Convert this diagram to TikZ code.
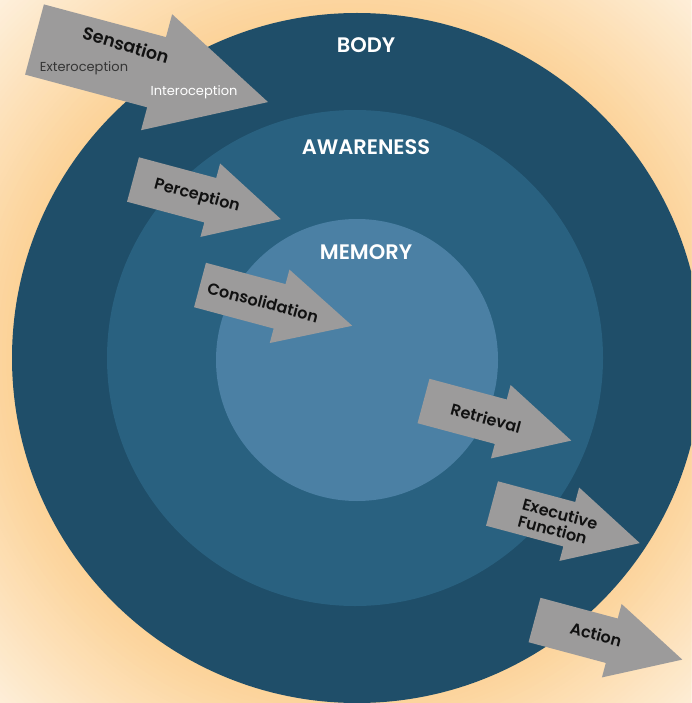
\documentclass[tikz,border=0pt]{standalone}
\usepackage{fontspec}
\setmainfont{Poppins}
\newfontfamily\semib{Poppins SemiBold}
\definecolor{peach}{HTML}{FCD297}
\definecolor{cream}{HTML}{FEF3E3}
\definecolor{bodyc}{HTML}{1F4E69}
\definecolor{awarec}{HTML}{296180}
\definecolor{memc}{HTML}{4B80A4}
\definecolor{arrowgray}{HTML}{9C9B9B}
\definecolor{lbltext}{HTML}{111111}
\tikzset{
  blockarrow/.pic={\fill[arrowgray] (0,-23) -- (80,-23) -- (80,-38) -- (153,0) -- (80,38) -- (80,23) -- (0,23) -- cycle;},
  ring/.style={circle, inner sep=0pt, outer sep=0pt},
  title/.style={text=white, font=\semib\fontsize{21}{24}\selectfont},
  lbl/.style={text=lbltext, font=\semib\fontsize{16}{17}\selectfont, rotate=-15, inner sep=0pt},
  sub/.style={font=\fontsize{13}{14}\selectfont, inner sep=0pt}
}
\begin{document}
\begin{tikzpicture}[x=1pt,y=-1pt]
\useasboundingbox (0,0) rectangle (691,703);
\clip (0,0) rectangle (691,703);
\fill[cream] (0,0) rectangle (691,703);
\foreach \i in {0,...,40} {
  \pgfmathsetmacro\rr{520-\i*4.5}
  \pgfmathsetmacro\pp{\i*2.5}
  \fill[peach!\pp!cream] (351,357) circle (\rr);
}
\node[ring, fill=bodyc, minimum size=690pt] (body) at (357,358) {};
\node[ring, fill=awarec, minimum size=496pt] (aware) at (355,358) {};
\node[ring, fill=memc, minimum size=282pt] (mem) at (357,360) {};
\node[title] (tbody) at (366,45) {BODY};
\node[title] (taware) at (366,147) {AWARENESS};
\node[title] (tmem) at (366,252) {MEMORY};
% arrows
\pic[rotate=-15, scale=1.58] at (34.5,39.5) {blockarrow};
\pic[rotate=-15] at (133,179.5) {blockarrow};
\pic[rotate=-15, xscale=1.03] at (200,285) {blockarrow};
\pic[rotate=-15] at (423.5,401) {blockarrow};
\pic[rotate=-15] at (492,503.5) {blockarrow};
\pic[rotate=-15] at (534.5,620) {blockarrow};
% labels
\node[lbl, rotate=-1.5, font=\semib\fontsize{17.5}{18}\selectfont] (sens) at (126,45) {Sensation};
\node[sub, text=lbltext!85] (ext) at (84,68) {Exteroception};
\node[sub, text=white] (int) at (194,92) {Interoception};
\node[lbl] (perc) at (197,196) {Perception};
\node[lbl] (cons) at (263,302) {Consolidation};
\node[lbl] (retr) at (486,418) {Retrieval};
\node[lbl, align=left, font=\semib\fontsize{16}{17}\selectfont] (exec) at (558,522) {Executive\\Function};
\node[lbl] (act) at (596,634) {Action};
\end{tikzpicture}
\end{document}
